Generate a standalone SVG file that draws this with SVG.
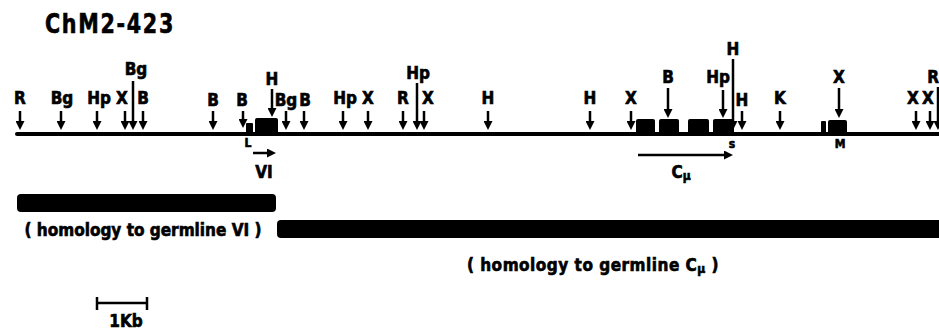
<svg xmlns="http://www.w3.org/2000/svg" width="939" height="332" viewBox="0 0 939 332">
<defs>
<style>
text{font-family:"DejaVu Sans Condensed","DejaVu Sans","Liberation Sans",sans-serif;font-weight:bold;font-stretch:condensed;fill:#000;stroke:#000;stroke-width:0.6;text-anchor:middle}
.lb{font-size:17px}
.sm{font-size:12px}
.ar{stroke:#000;stroke-width:2.5;fill:none;marker-end:url(#ah)}
.box{fill:#000}
</style>
<marker id="ah" viewBox="0 0 9 9" refX="5" refY="4.5" markerWidth="9" markerHeight="9" markerUnits="userSpaceOnUse" orient="auto">
<path d="M0,0 L9,4.5 L0,9 z" fill="#000"/>
</marker>
</defs>
<rect width="939" height="332" fill="#fff"/>
<text x="110" y="33" style="font-size:27px;letter-spacing:2px" textLength="130" lengthAdjust="spacingAndGlyphs">ChM2-423</text>

<g id="map">
<line x1="17" y1="134" x2="939" y2="134" stroke="#000" stroke-width="4" stroke-linecap="round"/>
<rect class="box" x="246" y="123" width="7" height="13" rx="1"/>
<rect class="box" x="255" y="118" width="23" height="18" rx="2"/>
<rect class="box" x="636" y="119" width="19" height="17" rx="2"/>
<rect class="box" x="659" y="119" width="20" height="17" rx="2"/>
<rect class="box" x="688" y="119" width="21" height="17" rx="2"/>
<rect class="box" x="713" y="119" width="21" height="17" rx="2"/>
<rect class="box" x="821" y="121" width="5" height="15" rx="1"/>
<rect class="box" x="828" y="120" width="19" height="16" rx="2"/>
<text class="sm" x="248" y="147">L</text>
<text class="sm" x="732" y="148">s</text>
<text class="sm" x="840" y="148">M</text>
</g>

<g id="connectors">
<line class="ar" x1="20" y1="111" x2="20" y2="126"/>
<line class="ar" x1="61" y1="111" x2="61" y2="126"/>
<line class="ar" x1="97" y1="111" x2="97" y2="126"/>
<line class="ar" x1="125" y1="111" x2="125" y2="126"/>
<line class="ar" x1="133" y1="81" x2="133" y2="126"/>
<line class="ar" x1="143" y1="111" x2="143" y2="126"/>
<line class="ar" x1="213" y1="111" x2="213" y2="126"/>
<line class="ar" x1="243" y1="111" x2="243" y2="124"/>
<line class="ar" x1="272" y1="89" x2="272" y2="113"/>
<line class="ar" x1="286" y1="111" x2="286" y2="126"/>
<line class="ar" x1="304" y1="111" x2="304" y2="126"/>
<line class="ar" x1="343" y1="111" x2="343" y2="126"/>
<line class="ar" x1="368" y1="111" x2="368" y2="126"/>
<line class="ar" x1="403" y1="111" x2="403" y2="126"/>
<line class="ar" x1="417" y1="83" x2="417" y2="126"/>
<line class="ar" x1="424" y1="111" x2="424" y2="126"/>
<line class="ar" x1="488" y1="111" x2="488" y2="126"/>
<line class="ar" x1="590" y1="111" x2="590" y2="126"/>
<line class="ar" x1="631" y1="111" x2="631" y2="126"/>
<line class="ar" x1="668" y1="88" x2="668" y2="114"/>
<line class="ar" x1="723" y1="90" x2="723" y2="114"/>
<line class="ar" x1="733" y1="59" x2="733" y2="126"/>
<line class="ar" x1="742" y1="111" x2="742" y2="126"/>
<line class="ar" x1="780" y1="111" x2="780" y2="126"/>
<line class="ar" x1="839" y1="88" x2="839" y2="114"/>
<line class="ar" x1="916" y1="111" x2="916" y2="126"/>
<line class="ar" x1="930" y1="111" x2="930" y2="126"/>
<line class="ar" x1="938" y1="87" x2="938" y2="126"/>
<line class="ar" x1="253" y1="153" x2="272" y2="153"/>
<line class="ar" x1="638" y1="155" x2="729" y2="155"/>
</g>

<g id="s-R1"><text class="lb" x="20" y="104">R</text></g>
<g id="s-Bg1"><text class="lb" x="62" y="104">Bg</text></g>
<g id="s-Hp1"><text class="lb" x="99" y="104">Hp</text></g>
<g id="s-X1"><text class="lb" x="122" y="104">X</text></g>
<g id="s-Bg2"><text class="lb" x="136" y="75">Bg</text></g>
<g id="s-B1"><text class="lb" x="143" y="104">B</text></g>
<g id="s-B2"><text class="lb" x="213" y="106">B</text></g>
<g id="s-B3"><text class="lb" x="242" y="106">B</text></g>
<g id="s-H1"><text class="lb" x="272" y="85">H</text></g>
<g id="s-Bg3"><text class="lb" x="286" y="106">Bg</text></g>
<g id="s-B4"><text class="lb" x="305" y="106">B</text></g>
<g id="s-Hp2"><text class="lb" x="345" y="104">Hp</text></g>
<g id="s-X2"><text class="lb" x="368" y="104">X</text></g>
<g id="s-R2"><text class="lb" x="403" y="104">R</text></g>
<g id="s-Hp3"><text class="lb" x="418" y="79">Hp</text></g>
<g id="s-X3"><text class="lb" x="428" y="104">X</text></g>
<g id="s-H2"><text class="lb" x="488" y="104">H</text></g>
<g id="s-H3"><text class="lb" x="590" y="104">H</text></g>
<g id="s-X4"><text class="lb" x="631" y="104">X</text></g>
<g id="s-B5"><text class="lb" x="668" y="83">B</text></g>
<g id="s-Hp4"><text class="lb" x="718" y="83">Hp</text></g>
<g id="s-H4"><text class="lb" x="733" y="55">H</text></g>
<g id="s-H5"><text class="lb" x="742" y="106">H</text></g>
<g id="s-K"><text class="lb" x="780" y="104">K</text></g>
<g id="s-X5"><text class="lb" x="839" y="83">X</text></g>
<g id="s-X6"><text class="lb" x="913" y="104">X</text></g>
<g id="s-X7"><text class="lb" x="928" y="104">X</text></g>
<g id="s-R3"><text class="lb" x="939" y="83" style="text-anchor:end">R</text></g>

<g id="VI"><text class="lb" x="264" y="178">VI</text></g>
<g id="Cmu"><text class="lb" x="681" y="178">C<tspan style="font-size:12px" dy="2">μ</tspan></text></g>

<g id="homology-VI">
<rect class="box" x="17" y="194" width="259" height="18" rx="4"/>
<text class="lb" x="143" y="236" textLength="237" lengthAdjust="spacingAndGlyphs">( homology to germline VI )</text>
</g>
<g id="homology-Cmu">
<rect class="box" x="277" y="220" width="670" height="18" rx="4"/>
<text class="lb" x="593" y="271" style="letter-spacing:0.5px">( homology to germline C<tspan style="font-size:12px" dy="2">μ</tspan><tspan dy="-2"> )</tspan></text>
</g>

<g id="scale">
<path d="M97,303 H147 M97,297 V310 M147,297 V310" stroke="#000" stroke-width="2.5" fill="none"/>
<text class="lb" x="126" y="327">1Kb</text>
</g>
</svg>
